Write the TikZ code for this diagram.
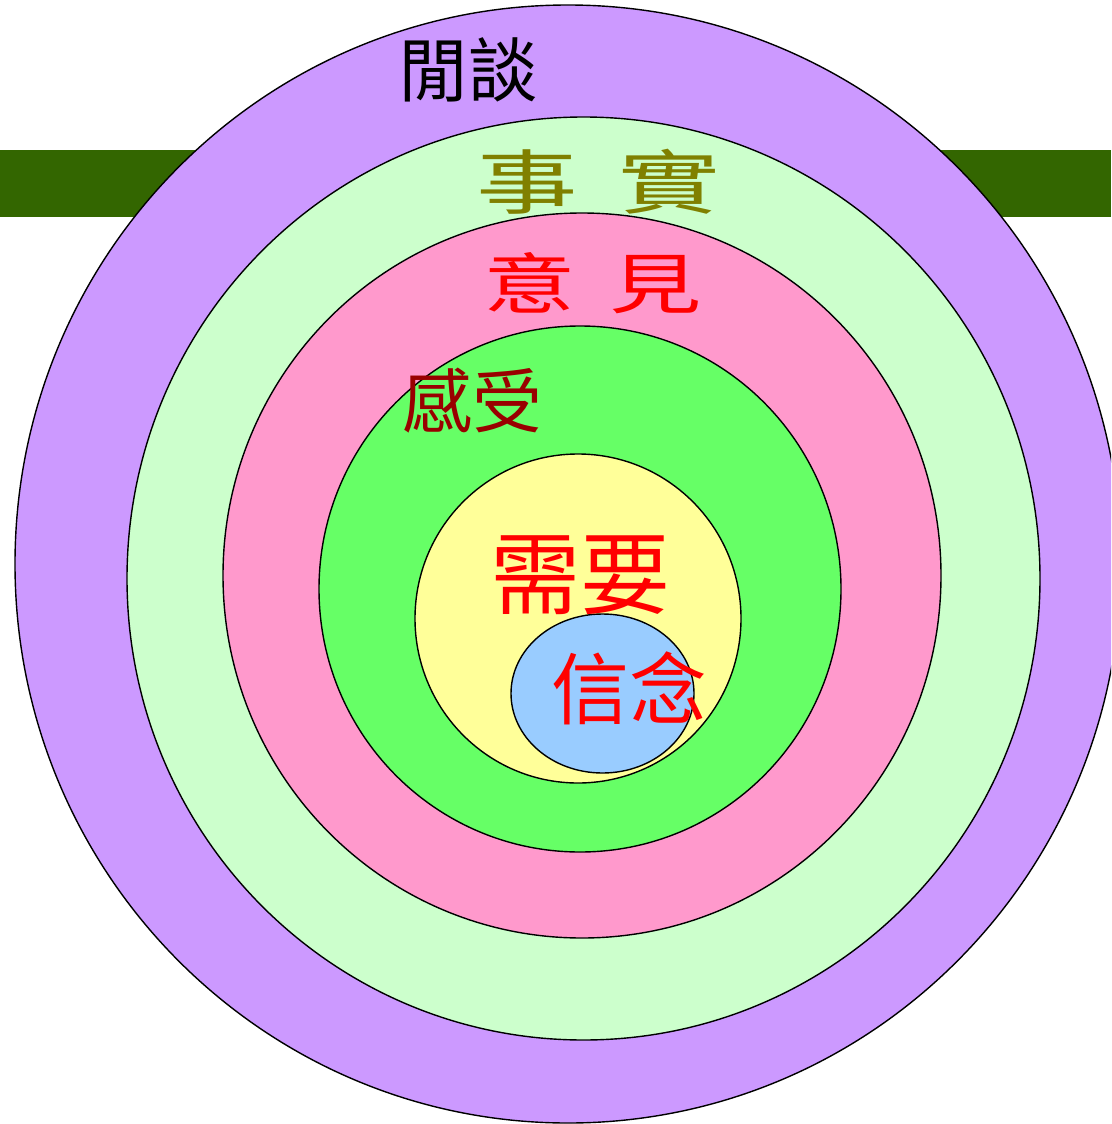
\documentclass[tikz,border=0pt]{standalone}
\usepackage{fontspec}
\newfontfamily\cjk{Noto Sans CJK TC}
\definecolor{cPurple}{HTML}{CC99FF}
\definecolor{cLgreen}{HTML}{CCFFCC}
\definecolor{cPink}{HTML}{FF99CC}
\definecolor{cGreen}{HTML}{66FF66}
\definecolor{cYellow}{HTML}{FFFF99}
\definecolor{cBlue}{HTML}{99CCFF}
\definecolor{cBar}{HTML}{336600}
\definecolor{cOlive}{HTML}{808000}
\definecolor{cDred}{HTML}{990000}
\definecolor{cRed}{HTML}{FF0000}
\tikzset{
  ring/.style={draw=black, line width=1.4pt},
  lbl/.style={inner sep=0pt, anchor=center, font=\cjk},
}
\begin{document}
\begin{tikzpicture}[x=1pt,y=-1pt]
\useasboundingbox (0,0) rectangle (1111,1124);
\clip (0,0) rectangle (1111,1124);
\fill[cBar] (0,150) rectangle (1111,216.5);
\draw[ring, fill=cPurple] (568,564) ellipse [x radius=553pt, y radius=559pt];
\draw[ring, fill=cLgreen] (583.5,578.5) ellipse [x radius=456.5pt, y radius=461.5pt];
\draw[ring, fill=cPink] (582,575.5) ellipse [x radius=359pt, y radius=362.5pt];
\draw[ring, fill=cGreen] (580,589) ellipse [x radius=261pt, y radius=263pt];
\draw[ring, fill=cYellow] (578,618.5) ellipse [x radius=163pt, y radius=164.5pt];
\draw[ring, fill=cBlue] (602.5,693.5) ellipse [x radius=91.5pt, y radius=79.5pt];
\node[lbl, text=black] (xiantan) at (468,70) {\fontsize{70}{80}\selectfont 閒談};
\node[lbl, text=cOlive] (shishi) at (598,182) {\scalebox{1.45}[1]{\fontsize{70}{80}\selectfont 事\hspace{28pt}實}};
\node[lbl, text=cRed] (yijian) at (593,283) {\scalebox{1.4}[1]{\fontsize{66}{76}\selectfont 意\hspace{24pt}見}};
\node[lbl, text=cDred] (ganshou) at (472,401) {\fontsize{70}{80}\selectfont 感受};
\node[lbl, text=cRed] (xuyao) at (580,575) {\fontsize{90}{100}\selectfont 需要};
\node[lbl, text=cRed] (xinnian) at (629,688) {\fontsize{78}{88}\selectfont 信念};
\end{tikzpicture}
\end{document}
